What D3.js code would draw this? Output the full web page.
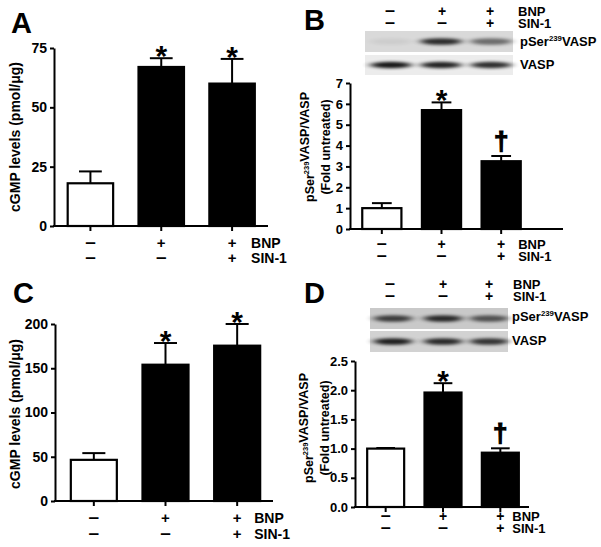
<!DOCTYPE html>
<html>
<head>
<meta charset="utf-8">
<script src="https://cdn.jsdelivr.net/npm/d3@7"></script>
<style>
  body { margin: 0; background: #fff; }
  svg { display: block; }
  text { font-family: "Liberation Sans", Arial, sans-serif; font-weight: bold; fill: #000; }
</style>
</head>
<body>
<div id="chart"></div>
<script>
// ------------------------------------------------------------
// Data
// ------------------------------------------------------------
const groups = ["control", "BNP", "BNP + SIN-1"];
const bnpRow = ["-", "+", "+"];
const sinRow = ["-", "-", "+"];

const cgmpA = [18, 67, 60];
const semA = [5, 3.7, 10.4];
const marksA = ["", "*", "*"];
const ticksA = [0, 25, 50, 75];

const vaspB = [1.0, 5.7, 3.25];
const semB = [0.24, 0.37, 0.25];
const marksB = ["", "*", "†"];
const ticksB = [0, 1, 2, 3, 4, 5, 6, 7];

const cgmpC = [46.5, 154, 175.5];
const semC = [7.6, 24.5, 24.5];
const marksC = ["", "*", "*"];
const ticksC = [0, 50, 100, 150, 200];

const vaspD = [1.0, 1.96, 0.93];
const semD = [0.01, 0.16, 0.075];
const marksD = ["", "*", "†"];
const ticksD = [0, 0.5, 1.0, 1.5, 2.0, 2.5];

// blot band darkness per lane (0 = none, 1 = black)
const blotB_p = [0.05, 0.8, 0.5];
const blotB_v = [0.9, 0.85, 0.8];
const blotD_p = [0.7, 0.8, 0.6];
const blotD_v = [0.85, 0.8, 0.75];

const svg = d3.select("#chart").append("svg")
  .attr("width", 601)
  .attr("height", 547);

const defs = svg.append("defs");
defs.append("filter").attr("id", "blur")
  .attr("x", "-30%").attr("y", "-100%").attr("width", "160%").attr("height", "300%")
  .append("feGaussianBlur").attr("stdDeviation", "4 1.6");

// ------------------------------------------------------------
// One bar panel
// ------------------------------------------------------------
function drawPanel(p) {
  const g = svg.append("g");

  const x = d3.scaleBand()
    .domain(groups)
    .range(p.band)
    .paddingInner(p.pad)
    .paddingOuter(p.pad / 2);

  const y = d3.scaleLinear()
    .domain([0, p.max])
    .range(p.yRange);

  // bars
  g.selectAll("rect.bar").data(p.values).enter().append("rect")
    .attr("class", "bar")
    .attr("x", (d, i) => x(groups[i]) + 1)
    .attr("width", x.bandwidth() - 2)
    .attr("y", d => y(d))
    .attr("height", d => y(0) - y(d))
    .attr("fill", (d, i) => i === 0 ? "#fff" : "#000")
    .attr("stroke", "#000")
    .attr("stroke-width", 2.2);

  // error bars (upper only)
  const cx = i => x(groups[i]) + x.bandwidth() / 2;
  const cap = x.bandwidth() * 0.24;
  g.selectAll("line.err").data(p.values).enter().append("line")
    .attr("x1", (d, i) => cx(i)).attr("x2", (d, i) => cx(i))
    .attr("y1", d => y(d))
    .attr("y2", (d, i) => y(d + p.sem[i]))
    .attr("stroke", "#000").attr("stroke-width", 2);
  g.selectAll("line.cap").data(p.values).enter().append("line")
    .attr("x1", (d, i) => cx(i) - cap).attr("x2", (d, i) => cx(i) + cap)
    .attr("y1", (d, i) => y(d + p.sem[i]))
    .attr("y2", (d, i) => y(d + p.sem[i]))
    .attr("stroke", "#000").attr("stroke-width", 2);

  // significance marks
  g.selectAll("text.mark").data(p.marks).enter().append("text")
    .attr("x", (d, i) => cx(i))
    .attr("y", (d, i) => y(p.values[i] + p.sem[i]) + (d === "*" ? 8 : -6))
    .attr("text-anchor", "middle")
    .attr("font-size", d => d === "*" ? 30 : 26)
    .attr("stroke", d => d === "*" ? null : "#000")
    .attr("stroke-width", 1.2)
    .text(d => d);

  // y axis
  const yAxis = g.append("g")
    .attr("transform", `translate(${p.axisX},0)`)
    .call(d3.axisLeft(y).tickValues(p.ticks).tickSize(4).tickSizeOuter(0)
      .tickPadding(3).tickFormat(p.fmt));
  yAxis.select(".domain").attr("stroke-width", 2);
  yAxis.selectAll(".tick line").attr("stroke-width", 2);
  yAxis.selectAll(".tick text")
    .attr("font-size", p.fs)
    .attr("font-family", "Liberation Sans, Arial, sans-serif")
    .attr("font-weight", "bold");

  // x axis line + ticks at band centres
  g.append("line")
    .attr("x1", p.axisX - 1).attr("x2", p.axisEnd)
    .attr("y1", y(0)).attr("y2", y(0))
    .attr("stroke", "#000").attr("stroke-width", 2);
  const xAxis = g.append("g")
    .attr("transform", `translate(0,${y(0)})`)
    .call(d3.axisBottom(x).tickSize(5).tickFormat(""));
  xAxis.select(".domain").remove();
  xAxis.selectAll(".tick line").attr("stroke-width", 2);

  // treatment rows under the axis
  signRows(g, groups.map((d, i) => cx(i)), p.rowY, p.fs, p.labelGap);

  // panel letter
  g.append("text")
    .attr("x", p.letter[0]).attr("y", p.letter[1])
    .attr("font-size", 29)
    .text(p.name);

  return g;
}

function signRows(g, xs, rowY, fs, gap) {
  [bnpRow, sinRow].forEach((row, r) => {
    g.selectAll(null).data(row).enter().append("text")
      .attr("x", (d, i) => xs[i])
      .attr("y", rowY[r])
      .attr("text-anchor", "middle")
      .attr("font-size", d => d === "+" ? fs + 1 : fs + 5)
      .text(d => d === "+" ? "+" : "–");
    g.append("text")
      .attr("x", xs[2] + gap)
      .attr("y", rowY[r])
      .attr("font-size", fs)
      .text(r === 0 ? "BNP" : "SIN-1");
  });
}

function yTitle(g, cx, cy, fs, lines) {
  lines.forEach((ln, k) => {
    const t = g.append("text")
      .attr("transform", `translate(${cx + k * fs * 1.25},${cy}) rotate(-90)`)
      .attr("text-anchor", "middle")
      .attr("dy", "0.35em")
      .attr("font-size", fs);
    ln.forEach(part => {
      if (typeof part === "string") {
        t.append("tspan").text(part);
      } else {
        t.append("tspan").attr("font-size", fs * 0.6).attr("dy", -fs * 0.4).text(part.up);
        t.append("tspan").attr("dy", fs * 0.4).text("");
      }
    });
  });
}

function blot(g, x0, x1, y0, y1, lanes, dens, bg) {
  g.append("rect")
    .attr("x", x0).attr("y", y0)
    .attr("width", x1 - x0).attr("height", y1 - y0)
    .attr("fill", bg);
  const w = (x1 - x0) / 3;
  g.selectAll(null).data(dens).enter().append("ellipse")
    .attr("cx", (d, i) => lanes[i])
    .attr("cy", (y0 + y1) / 2)
    .attr("rx", w * 0.42)
    .attr("ry", (y1 - y0) * 0.16)
    .attr("fill", "#000")
    .attr("opacity", d => d)
    .attr("filter", "url(#blur)");
}

function blotLabels(g, x, yP, yV, fs) {
  const t = g.append("text").attr("x", x).attr("y", yP).attr("font-size", fs);
  t.append("tspan").text("pSer");
  t.append("tspan").attr("font-size", fs * 0.6).attr("dy", -fs * 0.4).text("239");
  t.append("tspan").attr("dy", fs * 0.4).text("VASP");
  g.append("text").attr("x", x).attr("y", yV).attr("font-size", fs).text("VASP");
}

// ------------------------------------------------------------
// Panels
// ------------------------------------------------------------
const gA = drawPanel({
  name: "A", letter: [11, 33], values: cgmpA, sem: semA, marks: marksA,
  ticks: ticksA, max: 75, yRange: [226, 48], band: [55, 267.5], pad: 0.33,
  axisX: 54, axisEnd: 268, fs: 14, fmt: d3.format("d"), rowY: [248, 263], labelGap: 19
});
yTitle(gA, 15, 137, 14, [["cGMP levels (pmol/μg)"]]);

const gB = drawPanel({
  name: "B", letter: [304, 30], values: vaspB, sem: semB, marks: marksB,
  ticks: ticksB, max: 7, yRange: [229, 83], band: [352, 531], pad: 0.31,
  axisX: 350, axisEnd: 563, fs: 13, fmt: d3.format("d"), rowY: [249, 261], labelGap: 17
});
yTitle(gB, 310, 147, 12.5, [["pSer", { up: "239" }, "VASP/VASP"], ["(Fold untreated)"]]);
blot(gB, 365, 513, 31, 52, [391, 441, 491], blotB_p, "#d9d9d9");
blot(gB, 365, 513, 55, 75, [391, 441, 491], blotB_v, "#ececec");
signRows(gB.append("g"), [390, 442, 490], [16, 28], 13, 28);
blotLabels(gB, 520, 46, 69, 13);

const gC = drawPanel({
  name: "C", letter: [13, 303], values: cgmpC, sem: semC, marks: marksC,
  ticks: ticksC, max: 200, yRange: [501, 324], band: [58, 273], pad: 0.33,
  axisX: 55, axisEnd: 273, fs: 14, fmt: d3.format("d"), rowY: [523, 539], labelGap: 17
});
yTitle(gC, 15, 414, 14, [["cGMP levels (pmol/μg)"]]);

const gD = drawPanel({
  name: "D", letter: [304, 303], values: vaspD, sem: semD, marks: marksD,
  ticks: ticksD, max: 2.5, yRange: [507, 361], band: [357, 529], pad: 0.32,
  axisX: 355, axisEnd: 529, fs: 13, fmt: d3.format(".1f"), rowY: [521, 533], labelGap: 12
});
yTitle(gD, 309, 428, 12.5, [["pSer", { up: "239" }, "VASP/VASP"], ["(Fold untreated)"]]);
blot(gD, 370, 508, 308, 329, [393, 443, 489], blotD_p, "#c9c9c9");
gD.append("rect").attr("x", 370).attr("y", 329).attr("width", 138).attr("height", 2).attr("fill", "#fff");
blot(gD, 370, 508, 331, 352, [393, 443, 489], blotD_v, "#d2d2d2");
signRows(gD.append("g"), [390, 443, 489], [289, 301], 13, 24);
blotLabels(gD, 512, 321, 345, 13);
</script>
</body>
</html>
